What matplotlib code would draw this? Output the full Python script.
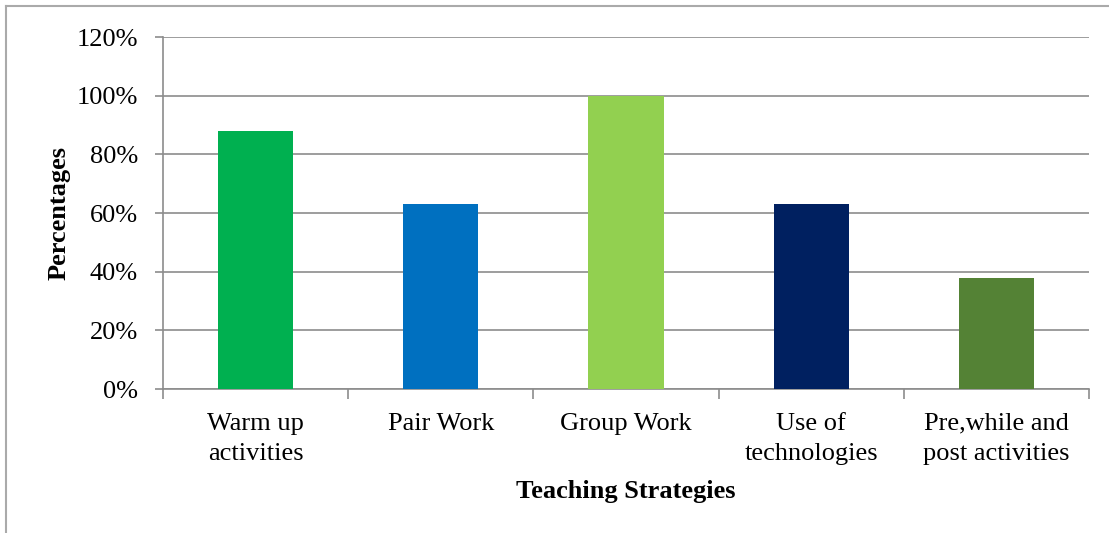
import matplotlib.pyplot as plt
from matplotlib.lines import Line2D
import numpy as np

categories = ['Warm up\nactivities', 'Pair Work', 'Group Work', 'Use of\ntechnologies',
              'Pre,while and\npost activities']
values = [88, 63, 100, 63, 38]
colors = ['#00B050', '#0070C0', '#92D050', '#002060', '#548235']
yticks = [0, 20, 40, 60, 80, 100, 120]

plt.rcParams['font.family'] = ['Liberation Serif', 'DejaVu Serif']

fig = plt.figure(figsize=(11.09, 5.33), dpi=100)
ax = fig.add_axes([163 / 1109, 1 - 389 / 533, (1089 - 163) / 1109, (389 - 37) / 533])

x = np.arange(len(categories))
ax.bar(x, values, width=0.405, color=colors, zorder=3)

ax.set_xlim(-0.5, len(categories) - 0.5)
ax.set_ylim(0, 120)
ax.set_yticks(yticks)
ax.set_yticklabels([f'{v}%' for v in yticks], fontsize=19)
ax.yaxis.grid(True, color='#8c8c8c', linewidth=1.2, zorder=0)

ax.set_xticks(x)
ax.set_xticklabels(categories, fontsize=19, linespacing=1.5)
ax.set_xticks(np.arange(-0.5, len(categories)), minor=True)
ax.tick_params(axis='x', which='major', length=0, pad=17)
ax.tick_params(axis='x', which='minor', length=7, color='#8c8c8c', width=1.2)
ax.tick_params(axis='y', length=6, color='#8c8c8c', width=1.2, pad=12)

for s in ['top', 'right']:
    ax.spines[s].set_visible(False)
for s in ['left', 'bottom']:
    ax.spines[s].set_color('#8c8c8c')
    ax.spines[s].set_linewidth(1.2)

ax.set_xlabel('Teaching Strategies', fontsize=19, fontweight='bold', labelpad=11)
ax.set_ylabel('Percentages', fontsize=19, fontweight='bold', labelpad=4)

# outer chart border (only left and top are inside the picture)
fig.add_artist(Line2D([6 / 1109, 6 / 1109], [0, 1 - 6 / 533], color='#aaaaaa', linewidth=1.5))
fig.add_artist(Line2D([6 / 1109, 1], [1 - 6 / 533, 1 - 6 / 533], color='#aaaaaa', linewidth=1.5))

fig.savefig('out.png', dpi=100)
